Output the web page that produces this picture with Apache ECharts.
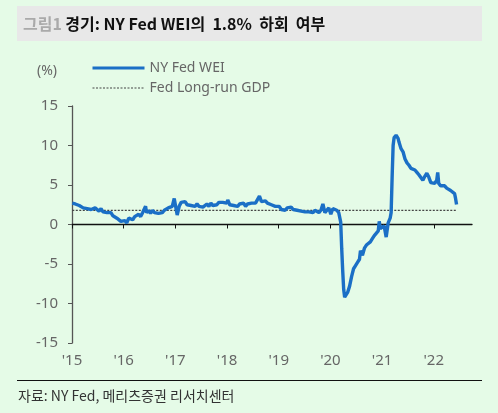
<!DOCTYPE html>
<html><head><meta charset="utf-8">
<script src="https://cdn.jsdelivr.net/npm/echarts@6/dist/echarts.min.js"></script>
<style>html,body{margin:0;padding:0;background:#E5FBE7;}#c{width:498px;height:413px;}</style>
</head><body><div id="c"></div>
<script>
const dates = [
'2015-01-03','2015-01-10','2015-01-24','2015-02-07','2015-02-21','2015-03-07','2015-03-21','2015-04-04','2015-04-18','2015-05-02','2015-05-16','2015-05-30','2015-06-13','2015-06-27','2015-07-11','2015-07-25','2015-08-08','2015-08-22','2015-09-05','2015-09-19','2015-10-03','2015-10-17','2015-10-31','2015-11-14','2015-11-28','2015-12-12','2015-12-26',
'2016-01-09','2016-01-23','2016-02-06','2016-02-20','2016-03-05','2016-03-19','2016-04-02','2016-04-16','2016-04-30','2016-05-14','2016-05-28','2016-06-04','2016-06-11','2016-06-25','2016-07-09','2016-07-23','2016-08-06','2016-08-20','2016-09-03','2016-09-17','2016-10-01','2016-10-15','2016-10-29','2016-11-12','2016-11-26','2016-12-10','2016-12-24',
'2017-01-07','2017-01-14','2017-01-28','2017-02-11','2017-02-25','2017-03-11','2017-03-25','2017-04-08','2017-04-22','2017-05-06','2017-05-20','2017-06-03','2017-06-17','2017-07-01','2017-07-15','2017-07-29','2017-08-12','2017-08-26','2017-09-09','2017-09-23','2017-10-07','2017-10-21','2017-11-04','2017-11-18','2017-12-02','2017-12-16','2017-12-30',
'2018-01-06','2018-01-20','2018-02-03','2018-02-17','2018-03-03','2018-03-17','2018-03-31','2018-04-14','2018-04-28','2018-05-12','2018-05-26','2018-06-09','2018-06-23','2018-07-07','2018-07-21','2018-08-04','2018-08-18','2018-09-01','2018-09-15','2018-09-29','2018-10-13','2018-10-27','2018-11-10','2018-11-24','2018-12-08','2018-12-22',
'2019-01-05','2019-01-19','2019-02-02','2019-02-16','2019-03-02','2019-03-16','2019-03-30','2019-04-13','2019-04-27','2019-05-11','2019-05-25','2019-06-08','2019-06-22','2019-07-06','2019-07-20','2019-08-03','2019-08-17','2019-08-31','2019-09-14','2019-09-28','2019-10-12','2019-10-26','2019-11-09','2019-11-23','2019-12-07','2019-12-21',
'2020-01-04','2020-01-18','2020-02-01','2020-02-15','2020-02-29','2020-03-07','2020-03-14','2020-03-21','2020-03-28','2020-04-04','2020-04-11','2020-04-18','2020-04-25','2020-05-02','2020-05-16','2020-05-30','2020-06-13','2020-06-27','2020-07-11','2020-07-25','2020-08-01','2020-08-15','2020-08-29','2020-09-12','2020-09-26','2020-10-10','2020-10-24','2020-11-07','2020-11-21','2020-12-05','2020-12-12','2020-12-19',
'2021-01-02','2021-01-16','2021-01-30','2021-02-13','2021-02-27','2021-03-06','2021-03-13','2021-03-20','2021-03-27','2021-04-10','2021-04-24','2021-05-01','2021-05-15','2021-05-29','2021-06-12','2021-06-26','2021-07-10','2021-07-24','2021-08-07','2021-08-21','2021-09-04','2021-09-18','2021-10-02','2021-10-16','2021-10-30','2021-11-13','2021-11-27','2021-12-11','2021-12-25',
'2022-01-08','2022-01-22','2022-01-29','2022-02-05','2022-02-19','2022-03-05','2022-03-19','2022-04-02','2022-04-16','2022-04-30','2022-05-14','2022-05-28','2022-06-04','2022-06-11'
];
const wei = [
2.7,2.9,2.6,2.8,2.4,2.3,2.1,2.2,2.0,2.1,1.9,1.8,2.1,1.9,1.7,2.0,1.6,1.8,1.5,1.4,1.5,1.1,1.3,0.8,0.6,0.4,0.2,
0.5,0.2,0.8,1.0,0.6,1.0,0.9,1.3,1.0,1.5,1.3,2.3,1.5,1.8,1.4,1.8,1.5,1.7,1.4,1.6,1.5,1.8,1.9,2.1,1.9,2.3,3.3,
1.9,1.2,2.3,2.8,2.6,2.9,2.5,2.7,2.4,2.6,2.3,2.6,2.3,2.5,2.2,2.4,2.6,2.3,2.7,2.4,2.6,2.5,2.8,2.6,2.8,2.6,2.7,
3.1,2.5,2.7,2.4,2.6,2.3,2.6,2.4,2.7,2.3,2.6,2.4,2.7,2.5,2.7,2.8,3.6,2.9,2.8,3.0,2.7,2.9,2.5,2.7,2.3,2.2,
2.3,1.9,2.1,1.8,2.1,2.0,2.2,1.9,2.1,1.8,2.0,1.7,1.9,1.6,1.8,1.6,1.8,1.5,1.8,1.6,1.5,1.8,2.6,1.5,1.6,2.1,
1.3,2.0,1.8,1.8,1.5,1.3,0.3,-3.0,-5.8,-8.2,-9.2,-9.4,-9.2,-8.6,-7.8,-6.6,-5.6,-5.2,-4.8,-4.4,-3.3,-3.9,-3.0,-2.6,-2.4,-2.2,-1.8,-1.4,-1.2,-0.8,0.4,-0.5,
-0.3,-0.2,-1.6,0.2,0.8,1.5,6.0,10.0,11.0,11.3,10.9,10.4,9.6,9.2,8.3,7.8,7.5,7.1,7.3,6.9,6.6,6.3,6.4,5.6,6.1,6.5,6.0,5.3,5.4,
5.2,5.6,6.6,5.2,4.9,4.8,4.9,4.6,4.4,4.3,4.2,3.9,3.3,2.54
];
const gdpLevel = 1.8;
const yearTicks = [2015,2016,2017,2018,2019,2020,2021,2022];
const xStart = 2015, xEnd = 2022.74;

function toYear(d) {
  const [y,m,dd] = d.split('-').map(Number);
  const t = Date.UTC(y,m-1,dd), t0 = Date.UTC(y,0,1), t1 = Date.UTC(y+1,0,1);
  return y + (t - t0) / (t1 - t0);
}
const weiData = dates.map((d,i) => {
  const p = {value:[toYear(d), wei[i]]};
  if (i === dates.length-1) {
    p.label = {show:true, position:'left', distance:4, offset:[0,-5], formatter: () => wei[i].toFixed(2),
      color:'#111', fontSize:15, fontWeight:'bold', fontFamily:'Noto Sans'};
  }
  return p;
});
const gdpData = [[toYear(dates[0]), gdpLevel],[toYear(dates[dates.length-1]), gdpLevel]];
const font = 'Noto Sans, Noto Sans CJK KR, sans-serif';

const chart = echarts.init(document.getElementById('c'), null, {renderer:'canvas'});
chart.setOption({
  backgroundColor:'#E5FBE7',
  animation:false,
  grid:{left:72, right:26, top:106, bottom:70, containLabel:false},
  legend:{
    orient:'vertical', left:91, top:61, padding:0, itemWidth:52, itemHeight:14, itemGap:6,
    itemStyle:{opacity:0},
    textStyle:{color:'#666', fontSize:14, fontFamily:font},
    data:[{name:'NY Fed WEI', lineStyle:{width:3}}, {name:'Fed Long-run GDP', lineStyle:{width:1.2}}]
  },
  xAxis:[{
    type:'value', min:xStart, max:xEnd, position:'bottom',
    axisLine:{show:true, onZero:true, lineStyle:{color:'#111', width:1.3}},
    axisTick:{show:true, length:4, customValues:yearTicks, lineStyle:{color:'#111'}},
    axisLabel:{show:false}, splitLine:{show:false}
  },{
    type:'value', min:xStart, max:xEnd, position:'bottom',
    axisLine:{show:false, onZero:false}, axisTick:{show:false},
    axisLabel:{show:true, customValues:yearTicks, margin:10, color:'#666', fontSize:15, fontFamily:font,
      formatter: v => "'" + String(Math.round(v)).slice(2)},
    splitLine:{show:false}
  }],
  yAxis:{
    type:'value', min:-15, max:15, interval:5,
    axisLine:{show:true, lineStyle:{color:'#555', width:1.3}},
    axisTick:{show:true, length:4, lineStyle:{color:'#555'}},
    axisLabel:{color:'#666', fontSize:15, margin:14, fontFamily:font},
    splitLine:{show:false}
  },
  series:[{
    name:'NY Fed WEI', type:'line', xAxisIndex:0, data:weiData, symbol:'none', showSymbol:false,
    lineStyle:{color:'#1B6FC6', width:3.4}, itemStyle:{color:'#1B6FC6'}, z:3
  },{
    name:'Fed Long-run GDP', type:'line', xAxisIndex:0, data:gdpData, symbol:'none',
    lineStyle:{color:'#444', width:1.2, type:[2,1.5]}, itemStyle:{color:'#444'}, z:2
  }],
  graphic:[
    {type:'rect', shape:{x:17, y:6, width:465, height:35}, style:{fill:'#E8E8E8'}, silent:true},
    {type:'text', x:23, y:24, style:{text:'{a|그림1} {b|경기: NY Fed WEI의  1.8%  하회  여부}', verticalAlign:'middle',
      rich:{a:{fill:'#aaa', fontSize:16, fontWeight:'bold', fontFamily:'Noto Sans CJK KR'},
            b:{fill:'#111', fontSize:16, fontWeight:'bold', fontFamily:'Noto Sans CJK KR'}}}},
    {type:'text', x:57, y:71, style:{text:'(%)', fill:'#666', fontSize:14, fontFamily:font, align:'right', verticalAlign:'middle'}},
    {type:'rect', shape:{x:17, y:380, width:465, height:1}, style:{fill:'#111'}, silent:true},
    {type:'text', x:18, y:396, style:{text:'자료: NY Fed, 메리츠증권 리서치센터', fill:'#333', fontSize:14, fontFamily:'Noto Sans CJK KR', verticalAlign:'middle'}}
  ]
});
</script></body></html>
